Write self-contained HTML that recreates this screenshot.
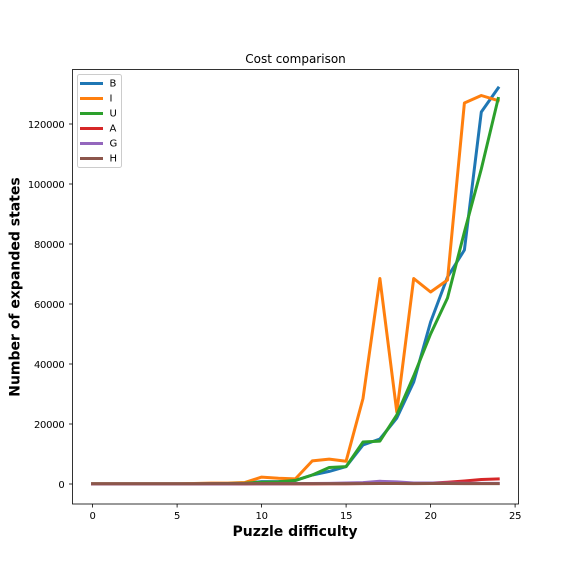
<!DOCTYPE html>
<html>
<head>
<meta charset="utf-8">
<title>Cost comparison</title>
<style>
html,body{margin:0;padding:0;background:#fff;width:576px;height:576px;overflow:hidden}
svg{display:block}
text{font-family:"DejaVu Sans","Liberation Sans",sans-serif;fill:#000}
</style>
</head>
<body>
<svg id="chart" width="576" height="576" viewBox="0 0 576 576" xmlns="http://www.w3.org/2000/svg">
<g id="plot"></g>
<rect x="72.5" y="69.5" width="446" height="434.5" fill="none" stroke="#000" stroke-width="0.8"/>
<g id="ticks"></g>
<text x="295.5" y="63" font-size="12" text-anchor="middle">Cost comparison</text>
<text x="295" y="536" font-size="14" font-weight="bold" text-anchor="middle">Puzzle difficulty</text>
<text x="0" y="0" font-size="14" font-weight="bold" text-anchor="middle" transform="translate(19.5 287) rotate(-90)">Number of expanded states</text>
<g id="legend"></g>
</svg>
<script>
const difficulty = [0,1,2,3,4,5,6,7,8,9,10,11,12,13,14,15,16,17,18,19,20,21,22,23,24];
const seriesB = [50,50,50,50,50,50,60,100,150,250,800,800,1200,3000,4200,5800,13000,15000,22000,34000,54000,69000,78000,124000,132000];
const seriesI = [100,100,100,100,100,100,150,300,300,500,2300,1900,1700,7700,8300,7600,28500,68500,24000,68500,64000,68000,127000,129500,127800];
const seriesU = [50,50,50,50,50,50,60,100,150,250,600,700,1200,3000,5500,5800,14000,14300,23000,36000,50000,62000,84000,105000,128500];
const seriesA = [0,0,0,0,0,0,0,10,10,20,30,40,50,60,80,70,150,150,150,200,300,600,1000,1500,1700];
const seriesG = [50,50,50,50,50,50,50,60,60,70,80,100,120,170,220,350,450,900,700,350,350,300,250,200,200];
const seriesH = [100,100,100,100,100,100,100,110,110,110,110,110,110,110,110,110,130,150,150,120,150,150,130,120,120];
const seriesNames = ['B','I','U','A','G','H'];
const seriesColors = ['#1f77b4','#ff7f0e','#2ca02c','#d62728','#9467bd','#8c564b'];
const seriesValues = [seriesB,seriesI,seriesU,seriesA,seriesG,seriesH];
const xTickValues = [0,5,10,15,20,25];
const yTickValues = [0,20000,40000,60000,80000,100000,120000];

const NS = 'http://www.w3.org/2000/svg';
function xScale(v){ return 92.6 + v * 16.9; }
function yScale(v){ return 484 - v * 0.003; }
function make(tag, attrs, parent){
  const el = document.createElementNS(NS, tag);
  for (const k in attrs) el.setAttribute(k, attrs[k]);
  parent.appendChild(el);
  return el;
}
const plot = document.getElementById('plot');
const ticks = document.getElementById('ticks');
const legend = document.getElementById('legend');

seriesValues.forEach(function(vals, i){
  const pts = vals.map(function(v, j){ return xScale(difficulty[j]).toFixed(2) + ',' + yScale(v).toFixed(2); }).join(' ');
  const line = make('polyline', {points: pts, fill: 'none', stroke: seriesColors[i], 'stroke-width': 3, 'stroke-linejoin': 'round', 'stroke-linecap': 'square'}, plot);
  
  
});

xTickValues.forEach(function(v){
  const x = xScale(v);
  const tick = make('line', {x1: x, x2: x, y1: 504, y2: 507.5, stroke: '#000', 'stroke-width': 0.8}, ticks);
  
  
  const label = make('text', {x: x, y: 519, 'font-size': 10, 'text-anchor': 'middle', 'letter-spacing': '-0.25'}, ticks);
  label.textContent = String(v);
  
  
});
yTickValues.forEach(function(v){
  const y = yScale(v);
  const tick = make('line', {x1: 69, x2: 72.5, y1: y, y2: y, stroke: '#000', 'stroke-width': 0.8}, ticks);
  
  
  const label = make('text', {x: 64.5, y: y + 4, 'font-size': 10, 'text-anchor': 'end', 'letter-spacing': '-0.25'}, ticks);
  label.textContent = String(v);
  
  
});

const legendBox = make('rect', {x: 77.5, y: 74.5, width: 44, height: 93, rx: 2, fill: '#fff', 'fill-opacity': 0.8, stroke: '#ccc', 'stroke-width': 1}, legend);


seriesNames.forEach(function(name, i){
  const y = 83.5 + i * 15;
  const handle = make('line', {x1: 80, x2: 103, y1: y, y2: y, stroke: seriesColors[i], 'stroke-width': 3}, legend);
  
  
  const label = make('text', {x: 109.5, y: y + 3, 'font-size': 10}, legend);
  label.textContent = name;
  
  
});
</script>
</body>
</html>
